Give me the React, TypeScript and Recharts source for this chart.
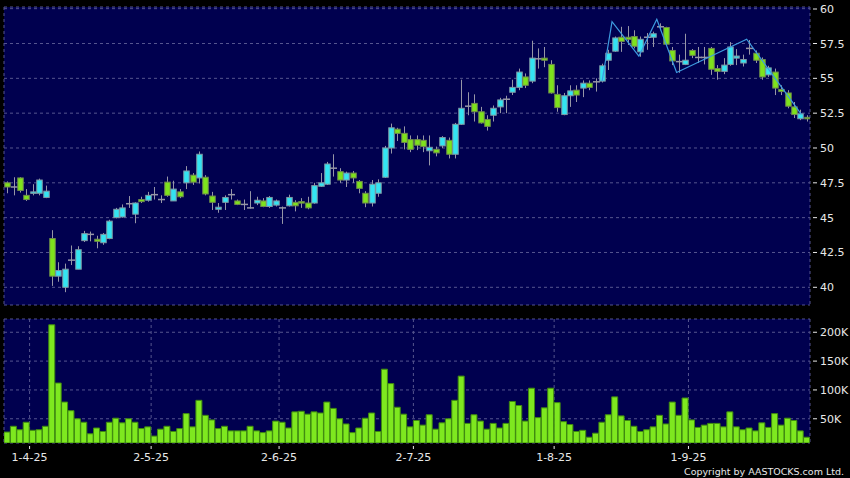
import { ComposedChart, Bar, Line, XAxis, YAxis, CartesianGrid } from 'recharts'

// daily OHLC (index 0 = 26-3-25)
const open = [
  47.5, 47.2, 47.85, 46.6, 46.75, 46.75, 46.45, 43.5, 40.8, 40.0,
  41.95, 41.3, 43.35, 43.8, 43.45, 43.2, 43.5, 45.0, 45.05, 46.0,
  45.25, 46.3, 46.25, 46.65, 46.3, 47.55, 46.2, 46.85, 47.5, 48.05,
  47.85, 47.9, 46.55, 45.6, 46.1, 46.65, 46.2, 45.95, 45.7, 46.05,
  46.2, 45.8, 45.9, 45.7, 45.85, 46.1, 46.15, 46.05, 46.05, 47.25,
  47.4, 48.55, 48.3, 47.7, 48.2, 47.6, 46.75, 46.05, 46.75, 47.9,
  50.0, 51.35, 51.05, 50.6, 50.6, 50.55, 49.8, 49.9, 50.15, 50.55,
  49.55, 51.7, 53.0, 53.2, 52.6, 52.05, 52.35, 52.95, 53.5, 54.0,
  54.35, 55.1, 54.8, 56.4, 56.45, 56.0, 53.85, 52.4, 53.75, 54.15,
  54.3, 54.65, 54.75, 54.8, 56.3, 56.95, 57.95, 57.95, 58.0, 56.9,
  57.95, 57.95, 58.7, 58.65, 57.0, 56.2, 56.0, 57.0, 56.5, 56.5,
  57.15, 55.7, 55.5, 56.0, 56.45, 56.1, 57.15, 56.8, 56.35, 55.25,
  55.45, 54.2, 53.95, 52.95, 52.1, 52.2,
]
const high = [
  47.6, 47.9, 47.9, 47.05, 47.4, 47.8, 47.3, 44.1, 41.8, 41.7,
  43.0, 42.95, 44.05, 44.0, 43.7, 43.9, 44.85, 45.7, 45.95, 46.55,
  46.1, 46.5, 46.85, 47.2, 46.6, 47.95, 47.65, 47.05, 48.7, 48.2,
  49.75, 48.05, 46.85, 46.05, 46.6, 47.05, 46.3, 46.3, 46.9, 46.5,
  46.4, 46.55, 46.3, 45.8, 46.65, 46.25, 46.4, 46.5, 47.5, 48.2,
  49.0, 49.55, 48.55, 48.3, 48.35, 47.7, 46.9, 47.7, 47.75, 50.15,
  51.75, 51.45, 51.55, 50.9, 50.9, 50.9, 50.9, 50.1, 50.85, 50.75,
  51.8, 54.9, 54.0, 53.85, 52.95, 52.35, 53.05, 53.6, 53.75, 54.9,
  55.7, 55.35, 57.7, 57.15, 57.25, 56.3, 54.5, 53.95, 54.5, 54.5,
  54.85, 54.85, 55.0, 56.05, 57.05, 58.0, 58.7, 58.75, 58.45, 58.0,
  58.25, 58.35, 58.95, 58.7, 57.25, 56.7, 58.2, 57.1, 57.25, 57.25,
  57.25, 55.95, 56.45, 57.6, 57.1, 56.7, 57.75, 57.0, 56.5, 55.9,
  55.7, 54.5, 54.15, 53.3, 52.75, 52.35,
]
const low = [
  46.75, 46.6, 46.8, 46.2, 46.6, 46.6, 46.4, 40.1, 40.4, 39.65,
  41.6, 41.3, 43.25, 43.3, 42.8, 43.05, 43.45, 44.95, 45.0, 45.7,
  44.6, 46.05, 46.15, 46.3, 46.05, 46.5, 46.2, 46.4, 47.05, 47.35,
  47.45, 46.6, 45.55, 45.35, 45.55, 46.3, 45.9, 45.55, 45.65, 45.9,
  45.75, 45.7, 45.8, 44.55, 45.8, 45.45, 45.7, 45.6, 46.0, 47.2,
  47.35, 47.95, 47.5, 47.2, 47.5, 46.75, 45.75, 45.8, 46.5, 47.85,
  49.6, 50.5, 49.9, 49.7, 49.85, 49.7, 48.75, 49.4, 50.0, 49.25,
  49.25, 51.65, 52.35, 51.9, 51.75, 51.25, 51.9, 52.5, 52.5, 53.8,
  54.15, 54.3, 54.65, 55.7, 55.8, 53.9, 52.6, 52.35, 52.95, 53.3,
  53.65, 54.15, 54.05, 54.7, 55.6, 56.9, 56.9, 57.4, 57.15, 56.55,
  57.05, 57.25, 58.45, 57.35, 55.95, 55.4, 55.95, 56.45, 56.1, 56.0,
  55.25, 54.9, 55.3, 55.9, 55.95, 55.85, 56.7, 56.1, 54.9, 55.1,
  53.8, 53.8, 52.85, 52.15, 52.0, 51.9,
]
const close = [
  47.2, 47.2, 46.95, 46.3, 46.85, 47.7, 46.9, 40.8, 41.2, 41.3,
  41.95, 42.7, 43.85, 43.8, 43.3, 43.8, 44.75, 45.6, 45.7, 46.0,
  46.05, 46.15, 46.6, 46.65, 46.3, 46.6, 47.05, 46.5, 48.35, 47.55,
  49.55, 46.7, 46.1, 45.75, 46.45, 46.65, 45.95, 45.95, 45.7, 46.25,
  45.8, 46.45, 46.2, 45.7, 46.45, 45.85, 46.05, 45.7, 47.3, 47.5,
  48.85, 48.55, 47.7, 48.2, 47.85, 47.1, 46.05, 47.4, 47.5, 50.0,
  51.45, 51.05, 50.4, 49.9, 50.2, 50.1, 50.05, 49.65, 50.75, 49.55,
  51.7, 52.85, 53.0, 52.6, 51.8, 51.55, 52.85, 53.45, 53.5, 54.35,
  55.45, 54.5, 56.45, 56.4, 56.3, 53.95, 52.9, 53.75, 54.1, 53.8,
  54.65, 54.35, 54.75, 55.9, 56.8, 57.9, 57.65, 57.8, 57.3, 57.8,
  57.95, 58.2, 58.7, 57.45, 56.25, 56.2, 56.3, 56.65, 56.5, 56.5,
  55.65, 55.5, 55.95, 57.25, 56.6, 56.35, 57.15, 56.3, 55.1, 55.75,
  54.3, 54.05, 53.0, 52.4, 52.45, 52.1,
]
// volume in thousands
const volume = [
  27, 37, 31, 44, 30, 31, 37, 213, 112, 79,
  64, 50, 44, 24, 34, 28, 44, 51, 43, 50,
  44, 33, 36, 20, 32, 37, 28, 33, 59, 36,
  82, 56, 48, 33, 37, 29, 29, 29, 37, 29,
  26, 29, 46, 44, 34, 62, 63, 58, 62, 60,
  79, 68, 50, 41, 26, 34, 51, 60, 28, 136,
  111, 70, 58, 36, 47, 39, 57, 32, 43, 50,
  82, 124, 42, 57, 46, 32, 42, 34, 42, 80,
  73, 46, 103, 52, 69, 103, 78, 45, 40, 28,
  30, 18, 25, 44, 57, 88, 55, 47, 37, 28,
  31, 36, 56, 41, 79, 56, 86, 48, 35, 39,
  42, 42, 36, 62, 36, 31, 34, 29, 43, 35,
  59, 39, 51, 47, 29, 18,
]
// zigzag overlay: [bar position, price]
const zigX = [93.0, 94.55, 98.75, 101.55, 104.65, 115.6, 124.15]
const zigY = [54.8, 59.07, 56.6, 59.24, 55.42, 57.81, 52.42]

const monthLabels = ['1-4-25', '2-5-25', '2-6-25', '2-7-25', '1-8-25', '1-9-25']
const monthIndex = [4, 23, 43, 64, 86, 107]
const priceTicks = [40, 42.5, 45, 47.5, 50, 52.5, 55, 57.5, 60]
const volTicks = [50000, 100000, 150000, 200000]

const rows = open.map((o, i) => ({
  i,
  open: o,
  high: high[i],
  low: low[i],
  close: close[i],
  range: [low[i], high[i]],
  vol: volume[i] * 1000,
}))
const zig = zigX.map((x, k) => ({ i: x, z: zigY[k] }))
const xTicks = monthIndex.map((m) => m - 0.5)
const xDomain = [-0.5, open.length - 0.5]

const FONT = '"DejaVu Sans", Verdana, sans-serif'
const TEXT = '#e8e8e8'
const GRID = '#55558f'
const PLOT_BG = '#00004f'

function Candle(props: any) {
  const { x, y, width, height, payload } = props
  if (!payload) return null
  const { open: o, close: c, high: h, low: l } = payload
  const top = Math.min(y, y + height)
  const span = Math.abs(height)
  const k = h > l ? span / (h - l) : 0
  const py = (v: number) => top + (h - v) * k
  const cx = Math.round(x + width / 2) + 0.5
  const wick = '#9696a6'
  let body = null
  if (o === c) {
    body = <line x1={cx - 3.5} x2={cx + 3.5} y1={py(o)} y2={py(o)} stroke={wick} strokeWidth={1.5} />
  } else {
    const up = c > o
    const y0 = py(Math.max(o, c))
    const bh = Math.max(1.5, Math.abs(o - c) * k)
    body = (
      <rect
        x={cx - 2.75}
        y={y0}
        width={5.5}
        height={bh}
        fill={up ? '#33e4f2' : '#7ee21c'}
        stroke={up ? '#7f97a3' : '#6f8a4c'}
        strokeWidth={1}
      />
    )
  }
  return (
    <g>
      <line x1={cx} x2={cx} y1={py(h)} y2={py(l)} stroke={wick} strokeWidth={1} />
      {body}
    </g>
  )
}

function RightTick(props: any) {
  const { x, y, payload, fmt } = props
  return (
    <g>
      <line x1={x + 3} x2={x + 7} y1={y} y2={y} stroke={TEXT} strokeWidth={1} />
      <text x={x + 10} y={y} dy={4} fill={TEXT} fontSize={11} fontFamily={FONT} textAnchor="start">
        {fmt(payload.value)}
      </text>
    </g>
  )
}

function BottomTick(props: any) {
  const { x, y, payload } = props
  const k = xTicks.indexOf(payload.value)
  return (
    <g>
      <line x1={x} x2={x} y1={y + 3} y2={y + 6} stroke={TEXT} strokeWidth={1} />
      <text x={x} y={y + 18} fill={TEXT} fontSize={11} fontFamily={FONT} textAnchor="middle">
        {k >= 0 ? monthLabels[k] : ''}
      </text>
    </g>
  )
}

export default function App() {
  return (
    <div style={{ position: 'fixed', left: 0, top: 0, width: 850, height: 478, background: '#000', overflow: 'hidden' }}>
      <div style={{ position: 'absolute', left: 0, top: 0 }}>
        <ComposedChart width={850} height={310} data={rows} margin={{ top: 7, right: 0, bottom: 5, left: 4 }}>
          <CartesianGrid stroke={GRID} strokeDasharray="3 3" fill={PLOT_BG} />
          <XAxis
            dataKey="i"
            type="number"
            domain={xDomain}
            ticks={xTicks}
            height={0}
            tick={false}
            axisLine={false}
            tickLine={false}
            allowDataOverflow
          />
          <YAxis
            orientation="right"
            width={40}
            domain={[38.73, 60.12]}
            ticks={priceTicks}
            allowDataOverflow
            axisLine={false}
            tickLine={false}
            tickSize={0}
            tickMargin={0}
            tick={<RightTick fmt={(v: number) => String(v)} />}
          />
          <Bar dataKey="range" barSize={6} shape={<Candle />} isAnimationActive={false} />
          <Line
            data={zig}
            dataKey="z"
            stroke="#3d9be0"
            strokeWidth={1.2}
            dot={false}
            isAnimationActive={false}
          />
        </ComposedChart>
      </div>
      <div style={{ position: 'absolute', left: 0, top: 310 }}>
        <ComposedChart width={850} height={168} data={rows} margin={{ top: 9, right: 0, bottom: 0, left: 4 }}>
          <CartesianGrid stroke={GRID} strokeDasharray="3 3" fill={PLOT_BG} />
          <XAxis
            dataKey="i"
            type="number"
            domain={xDomain}
            ticks={xTicks}
            height={35}
            axisLine={false}
            tickLine={false}
            tickSize={0}
            tickMargin={0}
            tick={<BottomTick />}
            allowDataOverflow
          />
          <YAxis
            orientation="right"
            width={40}
            domain={[8000, 223000]}
            ticks={volTicks}
            allowDataOverflow
            axisLine={false}
            tickLine={false}
            tickSize={0}
            tickMargin={0}
            tick={<RightTick fmt={(v: number) => v / 1000 + 'K'} />}
          />
          <Bar dataKey="vol" barSize={6} fill="#7ee81f" stroke="#3f8a10" strokeWidth={1} isAnimationActive={false} />
        </ComposedChart>
      </div>
      <div
        style={{
          position: 'absolute',
          right: 6,
          top: 465,
          color: TEXT,
          fontFamily: FONT,
          fontSize: 9.5,
          lineHeight: '14px',
          whiteSpace: 'nowrap',
        }}
      >
        Copyright by AASTOCKS.com Ltd.
      </div>
    </div>
  )
}
